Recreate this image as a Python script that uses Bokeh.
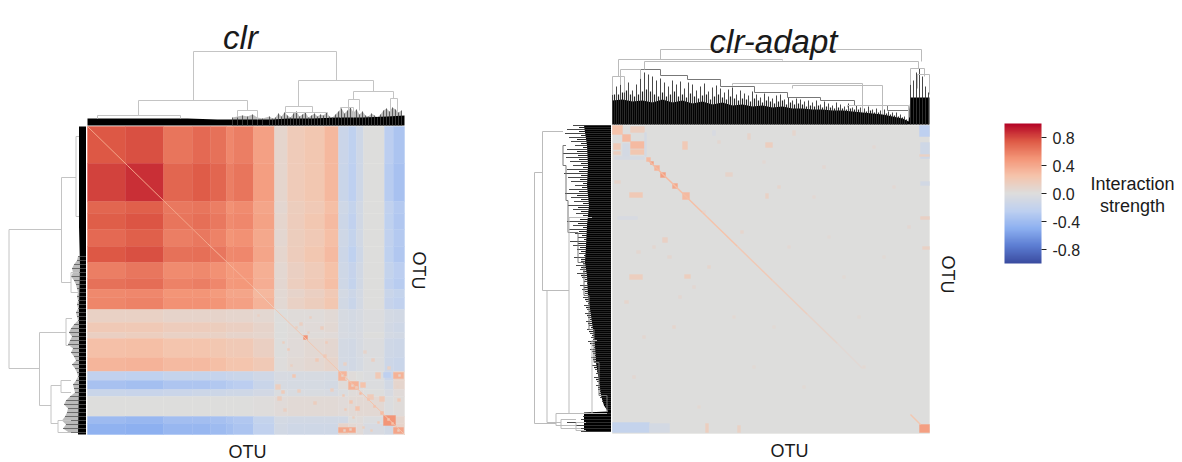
from bokeh.plotting import figure
from bokeh.models import Range1d, Label, ColorBar, LinearColorMapper, FixedTicker, PrintfTickFormatter, ColumnDataSource
from bokeh.embed import file_html
from bokeh.resources import INLINE

# ---------- colour scale ----------
scale_low = -1.0
scale_high = 1.0
scale_ticks = [-0.8, -0.4, 0.0, 0.4, 0.8]
scale_title = ["Interaction", "strength"]
panel_titles = ["clr", "clr-adapt"]
axis_name = "OTU"

# ---------- clr heatmap: cluster edges (OTU rank) and block values ----------
clr_col_edges = [0, 38, 76, 105, 123, 139, 146, 166, 187, 200, 217, 237, 251, 261, 269, 276, 297, 306, 317]
clr_row_edges = [0, 37, 75, 87, 103, 120, 136, 152, 163, 171, 183, 196, 206, 212, 231, 245, 254, 263, 270, 290, 297, 308]
clr_blocks = [
    [.75, .78, .64, .68, .65, .56, .60, .44, .08, .18, .22, .32, -.15, -.24, -.12, .00, -.26, -.34],
    [.82, .87, .70, .74, .70, .60, .64, .46, .08, .18, .22, .32, -.16, -.25, -.12, .00, -.28, -.36],
    [.70, .72, .62, .64, .60, .52, .54, .42, .07, .16, .20, .28, -.12, -.20, -.10, .00, -.22, -.30],
    [.73, .76, .64, .66, .62, .54, .56, .43, .08, .17, .22, .30, -.14, -.22, -.10, .00, -.24, -.32],
    [.68, .72, .60, .62, .58, .50, .52, .40, .07, .16, .20, .28, -.12, -.20, -.10, .00, -.22, -.30],
    [.75, .78, .65, .66, .63, .55, .56, .42, .08, .17, .22, .30, -.14, -.24, -.12, .00, -.24, -.32],
    [.60, .63, .54, .55, .52, .47, .48, .36, .06, .14, .18, .26, -.12, -.18, -.10, .00, -.20, -.26],
    [.65, .67, .58, .60, .56, .48, .49, .37, .07, .15, .20, .28, -.12, -.20, -.10, .00, -.22, -.28],
    [.55, .56, .50, .50, .47, .42, .42, .32, .05, .10, .14, .20, -.08, -.14, -.08, .00, -.16, -.20],
    [.57, .58, .52, .52, .50, .44, .44, .34, .05, .12, .16, .22, -.10, -.16, -.08, .00, -.18, -.22],
    [.12, .12, .10, .10, .10, .08, .08, .06, .00, .02, .02, .04, -.06, -.08, -.06, -.02, -.08, -.10],
    [.20, .20, .17, .17, .16, .14, .14, .10, .00, .02, .03, .05, -.06, -.08, -.06, -.02, -.10, -.12],
    [.14, .15, .12, .12, .12, .10, .10, .08, .00, .02, .02, .03, -.05, -.07, -.05, .00, -.08, -.10],
    [.27, .28, .24, .24, .22, .20, .20, .14, .00, .03, .05, .07, -.08, -.10, -.06, -.02, -.12, -.14],
    [.33, .34, .30, .30, .28, .24, .24, .20, .01, .04, .06, .09, -.08, -.10, -.07, -.02, -.14, -.16],
    [-.22, -.24, -.20, -.20, -.19, -.17, -.16, -.11, -.05, -.06, -.06, -.07, .05, .02, .00, -.02, -.15, .10],
    [-.36, -.38, -.33, -.33, -.31, -.28, -.26, -.16, -.06, -.07, -.07, -.08, .02, .05, -.02, -.02, -.10, .08],
    [-.16, -.17, -.15, -.14, -.14, -.12, -.12, -.09, -.03, -.04, -.04, -.05, -.03, .02, .03, .00, -.05, .03],
    [.00, .00, .00, .00, .00, .00, .00, .01, .03, .04, .04, .04, .03, .04, .05, .05, -.02, .02],
    [-.42, -.44, -.39, -.39, -.37, -.34, -.32, -.20, -.08, -.10, -.10, -.10, -.10, .00, .02, -.02, .10, .08],
    [-.48, -.50, -.44, -.44, -.41, -.38, -.34, -.22, -.10, -.12, -.12, -.12, .10, .05, .03, -.05, -.10, .10],
]
# clr: main diagonal pieces
clr_diag_x0 = [0, 40, 80, 120, 166, 188, 250]
clr_diag_x1 = [40, 80, 120, 166, 188, 250, 317]
clr_diag_y0 = [0, 39, 78, 117, 161, 183, 243]
clr_diag_y1 = [39, 78, 117, 161, 183, 243, 308]
clr_diag_v = [.42, .42, .42, .34, .18, .22, .25]
# clr: hot spots
clr_spot_x = [251, 261, 273, 296, 306, 251, 306, 288, 296, 216, 188, 194, 205, 228, 238, 243, 200, 212, 222, 236, 190, 196, 210, 226, 280, 292, 268, 300, 256, 284, 276, 262, 310, 170, 160, 203, 233, 254, 258, 264, 268, 300, 304, 310, 256, 262, 311, 309, 272, 280, 286, 293, 255, 257, 265, 290, 275, 283, 195, 208, 220]
clr_spot_y = [245, 255, 256, 289, 301, 301, 246, 246, 246, 209, 258, 264, 248, 232, 215, 262, 222, 196, 190, 228, 270, 282, 263, 275, 268, 270, 280, 240, 236, 232, 224, 274, 272, 188, 200, 238, 200, 248, 250, 258, 260, 292, 296, 303, 303, 302, 248, 259, 266, 272, 279, 285, 268, 282, 290, 295, 300, 303, 215, 200, 205]
clr_spot_w = [8, 10, 5, 12, 10, 17, 10, 5, 7, 4, 5, 3, 3, 3, 2, 3, 2, 3, 2, 3, 4, 3, 3, 3, 6, 5, 4, 3, 3, 3, 3, 3, 3, 2, 2, 2, 3, 2, 2, 2, 2, 2, 2, 2, 2, 2, 2, 2, 2, 2, 2, 3, 2, 2, 2, 2, 2, 2, 2, 2, 2]
clr_spot_h = [9, 8, 5, 10, 6, 5, 6, 6, 5, 4, 5, 3, 3, 3, 2, 3, 2, 3, 2, 3, 4, 3, 3, 3, 5, 5, 4, 3, 3, 3, 3, 3, 3, 2, 2, 2, 3, 2, 3, 2, 2, 2, 2, 2, 2, 2, 2, 2, 2, 2, 2, 3, 2, 2, 2, 2, 2, 2, 2, 2, 2]
clr_spot_v = [.33, .35, .25, .50, .42, .40, .35, .20, -.25, .50, .15, .18, .22, .20, .18, .14, .18, .14, .14, .2, .16, .14, .15, .16, .18, .2, .25, .12, .12, .14, .1, .22, .2, .14, .14, .14, .16, .10, .05, .10, .08, .20, .25, .15, .10, .12, .10, .10, .30, .25, .25, .30, .20, .20, .15, .20, .15, .15, .15, .15, .15]

# clr: dendrogram brackets (rank a, rank b, height a, height b, top)
clr_top_a = [106, 51, 10, 150, 211, 198, 266, 261, 303, 253, 198]
clr_top_b = [249, 160, 93, 170, 286, 225, 306, 272, 310, 266, 240]
clr_top_ha = [25, 10, 7, 8, 19, 12, 26, 15, 14, 8, 8]
clr_top_hb = [45, 15, 7, 6, 34, 13, 27, 15, 14, 8, 8]
clr_top_top = [74, 25, 10, 15, 45, 19, 34, 26, 27, 18, 13]
clr_left_a = [103, 51, 10, 146, 206, 192, 259, 254, 294]
clr_left_b = [242, 156, 90, 166, 279, 219, 297, 266, 306]
clr_left_ha = [24.5, 10, 7, 7, 20, 14, 25, 15, 15]
clr_left_hb = [46.5, 15, 7, 7, 35, 14, 28, 15, 15]
clr_left_top = [77, 24.5, 10, 15, 46.5, 20, 35, 25, 28]
# clr: solid black band outline
clr_top_band_x = [0, 50, 100, 130, 150, 170, 185, 200, 225, 250, 275, 300, 317]
clr_top_band_h = [7, 7, 7, 6, 6, 6, 6, 7, 7, 8, 8, 9, 10]
clr_left_band_y = [0, 60, 100, 140, 180, 220, 260, 308]
clr_left_band_d = [7, 7, 7, 6, 7, 7, 7, 8]
# clr: fine leaves above the band
clr_top_leaf_x = [145, 150, 155, 160, 165, 170, 175, 182, 185, 188, 191, 194, 197, 200, 203, 206, 209, 212, 215, 218, 221, 224, 227, 230, 233, 236, 239, 242, 245, 248, 251, 254, 257, 260, 263, 266, 269, 272, 275, 278, 281, 284, 287, 290, 293, 296, 299, 302, 305, 308, 311, 314]
clr_top_leaf_h = [8, 9, 10, 9, 11, 8, 7, 9, 7, 8, 12, 9, 13, 10, 8, 12, 14, 9, 11, 13, 8, 10, 12, 9, 11, 10, 13, 9, 8, 11, 14, 17, 12, 15, 18, 13, 16, 11, 14, 10, 9, 12, 10, 8, 11, 15, 17, 14, 18, 16, 13, 15]
clr_left_leaf_y = [130, 134, 138, 142, 146, 150, 154, 158, 162, 166, 170, 174, 178, 182, 186, 190, 194, 198, 202, 206, 210, 214, 218, 222, 226, 230, 234, 238, 242, 246, 250, 254, 258, 262, 266, 270, 274, 278, 282, 286, 290, 294, 298, 302, 306]
clr_left_leaf_d = [8, 9, 12, 14, 13, 15, 12, 10, 9, 8, 9, 8, 9, 8, 10, 9, 8, 12, 15, 17, 14, 16, 18, 13, 15, 12, 10, 14, 11, 9, 8, 10, 13, 12, 11, 16, 20, 22, 18, 19, 21, 24, 20, 23, 17]

# ---------- clr-adapt heatmap (mostly zero) ----------
adapt_spot_x = [0, 10, 18, 18, 1, 1, 18, 10, 32, 2, 307, 308, 307, 70, 153, 34, 38, 42, 48, 60, 70, 17, 153, 0, 37, 93, 125, 307, 72, 17, 310, 308, 308, 5, 2, 50, 113, 60, 95, 128, 165, 210, 12, 24, 100, 135, 180, 250, 295, 55, 80, 40, 90, 150, 200, 260, 30, 120, 175, 230, 280, 66, 140, 190, 245, 105, 215, 20, 85, 160, 270]
adapt_spot_y = [0, 9, 16, 24, 18, 26, 1, 18, 7, 31, 0, 17, 29, 16, 17, 32, 36, 40, 47, 58, 67, 67, 68, 297, 298, 298, 300, 299, 149, 149, 121, 91, 56, 91, 55, 112, 47, 200, 140, 105, 60, 40, 175, 125, 5, 8, 5, 240, 100, 130, 160, 120, 85, 35, 70, 20, 210, 190, 120, 150, 60, 170, 240, 260, 190, 15, 110, 250, 280, 200, 130]
adapt_spot_w = [10, 8, 14, 14, 7, 7, 14, 7, 2, 30, 10, 9, 10, 5, 7, 4, 3, 5, 5, 5, 7, 13, 3, 37, 20, 3, 3, 10, 6, 13, 7, 9, 9, 20, 6, 5, 7, 3, 3, 3, 3, 3, 4, 4, 3, 3, 3, 3, 3, 4, 3, 3, 3, 3, 3, 3, 3, 3, 3, 3, 3, 3, 3, 3, 3, 3, 3, 3, 3, 3, 3]
adapt_spot_h = [9, 7, 7, 5, 6, 3, 6, 13, 24, 3, 11, 16, 2, 8, 5, 4, 3, 5, 5, 5, 7, 5, 5, 10, 9, 9, 7, 8, 4, 5, 3, 3, 4, 3, 3, 5, 4, 3, 3, 3, 3, 3, 3, 3, 5, 6, 5, 3, 3, 3, 3, 3, 3, 3, 3, 3, 3, 3, 3, 3, 3, 3, 3, 3, 3, 3, 3, 3, 3, 3, 3]
adapt_spot_v = [.25, .30, .30, .22, .20, .15, .15, -.08, -.08, -.07, -.25, -.12, .12, .20, .15, .30, .45, .35, .45, .40, .30, .20, .12, -.20, -.08, .15, .12, .45, .15, .15, .12, .13, -.10, -.05, .10, .13, .10, .08, .08, .08, .08, .06, .08, .07, -.05, .10, .08, .05, .06, .07, .06, .07, .06, .05, .05, .05, .07, .05, .05, .04, .05, .06, .04, .04, .04, .07, .04, .06, .05, .04, .04]
adapt_diag_x0 = [36, 60, 90, 125, 160, 195, 225, 298]
adapt_diag_x1 = [60, 90, 125, 160, 195, 225, 250, 308]
adapt_diag_y0 = [35, 58, 87, 121, 155, 189, 218, 289]
adapt_diag_y1 = [58, 87, 121, 155, 189, 218, 243, 299]
adapt_diag_v = [.30, .28, .25, .20, .15, .10, .05, .22]

adapt_top_a = [48, 6, 32, 120, 180, 235, 298, 305, 0, 8]
adapt_top_b = [309, 170, 306, 250, 270, 296, 312, 317, 12, 28]
adapt_top_ha = [65, 48, 55, 39, 36, 17, 40, 36, 30, 40]
adapt_top_hb = [63, 64, 56, 12, 10, 6, 48, 30, 32, 46]
adapt_top_top = [75, 65, 63, 41, 39, 19, 56, 50, 48, 55]
adapt_left_a = [47, 6, 165, 92, 215, 288, 294, 297]
adapt_left_b = [298, 165, 297, 288, 288, 300, 303, 305]
adapt_left_ha = [68.5, 48, 42, 19, 14, 30, 35, 25]
adapt_left_hb = [55, 64, 50, 19, 4, 35, 30, 25]
adapt_left_top = [76.5, 68.5, 64, 42, 19, 55, 50, 35]
adapt_top_floor_x = [0, 10, 20, 30, 40, 50, 60, 70, 80, 90, 100, 110, 120, 130, 140, 150, 160, 170, 180, 190, 200, 210, 220, 230, 240, 250, 260, 270, 280, 290, 296, 298, 317]
adapt_top_floor_h = [24, 25, 23, 24, 22, 25, 22, 24, 21, 23, 20, 22, 19, 20, 18, 19, 17, 18, 16, 16, 15, 15, 14, 14, 13, 12, 11, 10, 8, 6, 3, 27, 27]
adapt_left_floor_y = [0, 20, 40, 60, 80, 100, 120, 137, 150, 170, 190, 204, 220, 237, 255, 270, 280, 286, 287, 306]
adapt_left_floor_d = [27, 24, 23, 24, 22, 24, 25, 26, 24, 23, 20, 18, 16, 15, 12, 10, 7, 3, 27, 27]
adapt_top_leaf_x = [0, 4, 8, 12, 16, 20, 24, 28, 32, 36, 40, 44, 48, 52, 56, 60, 64, 68, 72, 76, 80, 84, 88, 92, 96, 100, 104, 108, 112, 116, 120, 124, 128, 132, 136, 140, 144, 148, 152, 156, 160, 164, 168, 172, 176, 180, 184, 188, 192, 196, 200, 204, 208, 212, 216, 220, 224, 228, 232, 236, 240, 244, 248, 252, 256, 260, 264, 268, 272, 276, 280, 284, 288, 292, 298, 301, 304, 307, 310, 313, 316]
adapt_top_leaf_h = [30, 38, 40, 44, 42, 34, 40, 46, 52, 50, 48, 44, 46, 42, 38, 44, 40, 43, 36, 42, 40, 34, 38, 41, 33, 37, 39, 36, 32, 35, 37, 30, 34, 31, 29, 33, 30, 27, 31, 28, 26, 29, 30, 25, 27, 24, 26, 25, 23, 24, 22, 24, 20, 23, 21, 19, 22, 20, 18, 21, 17, 19, 17, 16, 18, 15, 16, 14, 15, 13, 12, 12, 10, 8, 40, 44, 52, 56, 48, 38, 32]
adapt_top_short_x = [2, 6, 10, 14, 18, 22, 26, 30, 34, 38, 42, 46, 50, 54, 58, 62, 66, 70, 74, 78, 82, 86, 90, 94, 98, 102, 106, 110, 114, 118, 122, 126, 130, 134, 138, 142, 146, 150, 154, 158, 162, 166, 170, 174, 178, 182, 186, 190, 194, 198, 202, 206, 210, 214, 218, 222, 226, 230, 234, 238, 242, 246, 250, 254, 258, 262, 266, 270, 274, 278, 282, 286, 290, 294]
adapt_top_short_h = [30, 30, 32, 34, 30, 28, 30, 33, 35, 33, 30, 28, 32, 28, 30, 33, 28, 30, 27, 31, 28, 26, 29, 30, 25, 28, 30, 27, 25, 28, 26, 24, 26, 25, 23, 26, 24, 22, 24, 23, 21, 23, 24, 20, 22, 20, 21, 20, 18, 19, 18, 19, 17, 18, 17, 16, 17, 16, 15, 16, 15, 15, 13, 13, 14, 12, 12, 11, 11, 10, 9, 8, 7, 5]
adapt_left_leaf_y = [0, 4, 8, 12, 16, 20, 24, 28, 32, 36, 40, 44, 48, 52, 56, 60, 64, 68, 72, 76, 80, 84, 88, 92, 96, 100, 104, 108, 112, 116, 120, 124, 128, 132, 136, 140, 144, 148, 152, 156, 160, 164, 168, 172, 176, 180, 184, 188, 192, 196, 200, 204, 208, 212, 216, 220, 224, 228, 232, 236, 240, 244, 248, 252, 256, 260, 264, 268, 272, 276, 280, 284, 288, 291, 294, 297, 300, 303, 306]
adapt_left_leaf_d = [38, 44, 46, 42, 40, 36, 44, 48, 45, 41, 38, 44, 47, 43, 40, 36, 42, 46, 40, 37, 43, 38, 35, 40, 44, 38, 42, 36, 33, 41, 38, 34, 32, 37, 30, 35, 31, 34, 29, 27, 31, 29, 26, 28, 25, 27, 24, 26, 23, 25, 22, 24, 21, 20, 23, 19, 21, 18, 20, 17, 19, 16, 15, 17, 14, 15, 13, 12, 11, 9, 6, 4, 36, 28, 30, 44, 50, 40, 30]
adapt_left_short_y = [2, 6, 10, 14, 18, 22, 26, 30, 34, 38, 42, 46, 50, 54, 58, 62, 66, 70, 74, 78, 82, 86, 90, 94, 98, 102, 106, 110, 114, 118, 122, 126, 130, 134, 138, 142, 146, 150, 154, 158, 162, 166, 170, 174, 178, 182, 186, 190, 194, 198, 202, 206, 210, 214, 218, 222, 226, 230, 234, 238, 242, 246, 250, 254, 258, 262, 266, 270, 274, 278, 282]
adapt_left_short_d = [32, 32, 30, 34, 30, 28, 34, 33, 32, 30, 28, 32, 30, 31, 28, 29, 32, 34, 30, 28, 33, 30, 28, 31, 33, 28, 32, 29, 27, 33, 31, 30, 27, 30, 28, 30, 28, 30, 26, 24, 27, 26, 24, 26, 23, 25, 22, 24, 21, 23, 20, 22, 19, 18, 21, 17, 19, 16, 18, 15, 17, 14, 13, 15, 12, 13, 11, 10, 9, 7, 5]
adapt_stair_x = [28, 48, 75, 108, 142, 175, 208, 242, 275, 297]
adapt_stair_h = [55, 49, 45, 38, 32, 27, 24, 19, 14, 7]
adapt_left_stair_y = [20, 40, 75, 107, 137, 170, 204, 237, 270, 286]
adapt_left_stair_d = [45, 48, 45, 43, 33, 27, 22, 17, 12, 4]

# ---------- palette ----------
anchors = [(0.0, (58, 76, 160)), (.125, (92, 125, 210)), (.25, (141, 176, 240)), (.375, (190, 208, 240)),
           (.5, (221, 221, 221)), (.625, (245, 196, 172)), (.75, (244, 150, 120)), (.875, (222, 90, 70)), (1.0, (180, 4, 38))]
palette = []
for i in range(256):
    t = i / 255
    for (a, ca), (b, cb) in zip(anchors, anchors[1:]):
        if t <= b:
            f = (t - a) / (b - a)
            palette.append("#%02x%02x%02x" % tuple(round(u + (v - u) * f) for u, v in zip(ca, cb)))
            break
mapper = LinearColorMapper(palette=palette, low=scale_low, high=scale_high)

W, H = 1182, 462
p = figure(width=W, height=H, output_backend="svg", toolbar_location=None,
           x_range=Range1d(0, W), y_range=Range1d(H, 0),
           x_axis_location=None, y_axis_location=None, min_border=0,
           outline_line_color=None, background_fill_color="white")
p.grid.visible = False
p.extra_x_ranges = {
    "clr_x": Range1d(-87, W - 87), "adapt_x": Range1d(-612, W - 612),
    "clr_d": Range1d(85.5, 85.5 - W), "adapt_d": Range1d(610.5, 610.5 - W),
}
p.extra_y_ranges = {
    "clr_y": Range1d(H - 126, -126), "adapt_y": Range1d(H - 125, -125),
    "clr_h": Range1d(125 - H, 125), "adapt_h": Range1d(124 - H, 124),
}

def cmap():
    return {"field": "v", "transform": mapper}

def cells(xr, yr, left, right, top, bottom, vals):
    src = ColumnDataSource(dict(left=left, right=right, top=top, bottom=bottom, v=vals))
    p.quad(left="left", right="right", top="top", bottom="bottom", fill_color=cmap(),
           line_color=cmap(), line_width=0.4, source=src, x_range_name=xr, y_range_name=yr)

def diag(xr, yr, x0, y0, x1, y1, vals, w):
    src = ColumnDataSource(dict(x0=x0, y0=y0, x1=x1, y1=y1, v=vals))
    p.segment("x0", "y0", "x1", "y1", line_color=cmap(), line_width=w, source=src, x_range_name=xr, y_range_name=yr)

def brackets_top(xr, yr, a, b, ha, hb, top, color):
    p.multi_line([[u, u, v, v] for u, v in zip(a, b)], [[s, t, t, r] for s, r, t in zip(ha, hb, top)],
                 line_color=color, line_width=1, x_range_name=xr, y_range_name=yr)

def brackets_left(xr, yr, a, b, ha, hb, top, color):
    p.multi_line([[s, t, t, r] for s, r, t in zip(ha, hb, top)], [[u, u, v, v] for u, v in zip(a, b)],
                 line_color=color, line_width=1, x_range_name=xr, y_range_name=yr)

# clr heatmap
left, right, top, bottom, vals = [], [], [], [], []
for r, row in enumerate(clr_blocks):
    for c, v in enumerate(row):
        left.append(clr_col_edges[c]); right.append(clr_col_edges[c + 1])
        top.append(clr_row_edges[r]); bottom.append(clr_row_edges[r + 1]); vals.append(v)
cells("clr_x", "clr_y", left, right, top, bottom, vals)
cells("clr_x", "clr_y", clr_spot_x, [a + b for a, b in zip(clr_spot_x, clr_spot_w)],
      clr_spot_y, [a + b for a, b in zip(clr_spot_y, clr_spot_h)], clr_spot_v)
diag("clr_x", "clr_y", clr_diag_x0, clr_diag_y0, clr_diag_x1, clr_diag_y1, clr_diag_v, 1)

# clr-adapt heatmap
cells("adapt_x", "adapt_y", [0], [317], [0], [308], [0.0])
cells("adapt_x", "adapt_y", adapt_spot_x, [a + b for a, b in zip(adapt_spot_x, adapt_spot_w)],
      adapt_spot_y, [a + b for a, b in zip(adapt_spot_y, adapt_spot_h)], adapt_spot_v)
diag("adapt_x", "adapt_y", adapt_diag_x0, adapt_diag_y0, adapt_diag_x1, adapt_diag_y1, adapt_diag_v, 1.5)

GREY = "#c4c4c4"
# clr dendrograms
p.varea(x=clr_top_leaf_x, y1=[0] * len(clr_top_leaf_x), y2=clr_top_leaf_h, fill_color="#777777", fill_alpha=0.5, x_range_name="clr_x", y_range_name="clr_h")
p.harea(y=clr_left_leaf_y, x1=[0] * len(clr_left_leaf_y), x2=clr_left_leaf_d, fill_color="#777777", fill_alpha=0.5, x_range_name="clr_d", y_range_name="clr_y")
p.varea(x=clr_top_band_x, y1=[0] * len(clr_top_band_x), y2=clr_top_band_h, fill_color="black", x_range_name="clr_x", y_range_name="clr_h")
p.harea(y=clr_left_band_y, x1=[0] * len(clr_left_band_y), x2=clr_left_band_d, fill_color="black", x_range_name="clr_d", y_range_name="clr_y")
p.segment(clr_top_leaf_x, [0] * len(clr_top_leaf_x), clr_top_leaf_x, clr_top_leaf_h, line_color="#444444", line_width=0.8, x_range_name="clr_x", y_range_name="clr_h")
p.segment([0] * len(clr_left_leaf_y), clr_left_leaf_y, clr_left_leaf_d, clr_left_leaf_y, line_color="#555555", line_width=0.8, x_range_name="clr_d", y_range_name="clr_y")
brackets_top("clr_x", "clr_h", clr_top_a, clr_top_b, clr_top_ha, clr_top_hb, clr_top_top, GREY)
brackets_left("clr_d", "clr_y", clr_left_a, clr_left_b, clr_left_ha, clr_left_hb, clr_left_top, GREY)

# clr-adapt dendrograms
p.varea(x=adapt_top_floor_x, y1=[0] * len(adapt_top_floor_x), y2=adapt_top_floor_h, fill_color="black", x_range_name="adapt_x", y_range_name="adapt_h")
p.harea(y=adapt_left_floor_y, x1=[0] * len(adapt_left_floor_y), x2=adapt_left_floor_d, fill_color="black", x_range_name="adapt_d", y_range_name="adapt_y")
p.segment(adapt_top_leaf_x, [0] * len(adapt_top_leaf_x), adapt_top_leaf_x, adapt_top_leaf_h, line_color="#333333", line_width=0.9, x_range_name="adapt_x", y_range_name="adapt_h")
p.segment(adapt_top_short_x, [0] * len(adapt_top_short_x), adapt_top_short_x, adapt_top_short_h, line_color="#222222", line_width=1.2, x_range_name="adapt_x", y_range_name="adapt_h")
p.segment([0] * len(adapt_left_leaf_y), adapt_left_leaf_y, adapt_left_leaf_d, adapt_left_leaf_y, line_color="#333333", line_width=0.9, x_range_name="adapt_d", y_range_name="adapt_y")
p.segment([0] * len(adapt_left_short_y), adapt_left_short_y, adapt_left_short_d, adapt_left_short_y, line_color="#222222", line_width=1.2, x_range_name="adapt_d", y_range_name="adapt_y")
p.step(adapt_stair_x, adapt_stair_h, mode="after", line_color="#777777", line_width=1, x_range_name="adapt_x", y_range_name="adapt_h")
p.step(adapt_left_stair_d, adapt_left_stair_y, mode="after", line_color="#777777", line_width=1, x_range_name="adapt_d", y_range_name="adapt_y")
brackets_top("adapt_x", "adapt_h", adapt_top_a, adapt_top_b, adapt_top_ha, adapt_top_hb, adapt_top_top, "#bbbbbb")
brackets_left("adapt_d", "adapt_y", adapt_left_a, adapt_left_b, adapt_left_ha, adapt_left_hb, adapt_left_top, "#bbbbbb")

# colour bar
cb = ColorBar(color_mapper=mapper, ticker=FixedTicker(ticks=scale_ticks),
              formatter=PrintfTickFormatter(format="%.1f"), width=37, height=140,
              location=(1004, 199), padding=0, margin=0, background_fill_alpha=0, border_line_color=None,
              bar_line_color=None, major_tick_in=0, major_tick_out=5, major_tick_line_color="#222222",
              major_label_text_font="Liberation Sans", major_label_text_font_size="16px",
              major_label_text_color="#222222", label_standoff=6, minor_tick_line_color=None)
p.add_layout(cb, "center")

def text(x, y, s, size, angle=0.0, style="normal", baseline="middle"):
    p.add_layout(Label(x=x, y=y, text=s, text_font="Liberation Sans", text_font_size=size, text_font_style=style,
                       text_color="#1a1a1a", text_align="center", text_baseline=baseline, angle=angle))

text(240, 37, panel_titles[0], "33px", style="italic", baseline="alphabetic")
text(773, 41, panel_titles[1], "33px", style="italic", baseline="alphabetic")
text(247, 451, axis_name, "18px")
text(789, 450, axis_name, "18px")
text(418, 270, axis_name, "18px", angle=-1.5708)
text(947, 274, axis_name, "18px", angle=-1.5708)
text(1132, 183, scale_title[0], "18px")
text(1132, 205, scale_title[1], "18px")

open("out.html", "w").write(file_html(p, INLINE))
